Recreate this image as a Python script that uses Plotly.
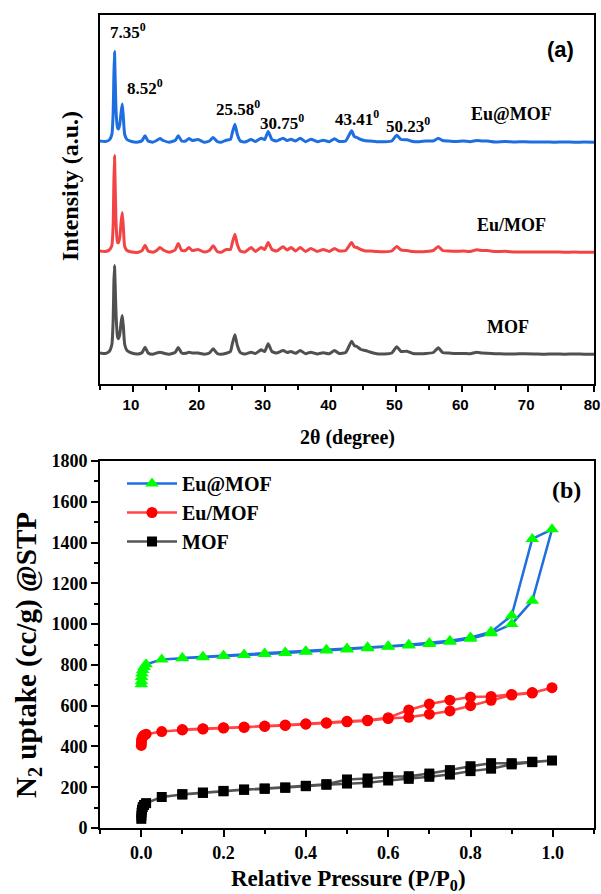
import plotly.graph_objects as go

# ---------------- (a) XRD data ----------------
two_theta = [5.0, 5.8, 6.4, 6.8, 7.0, 7.1, 7.2, 7.3, 7.45, 7.65, 7.8, 8.0, 8.2, 8.38, 8.55, 8.75,
             9.1, 9.8, 10.8, 11.4, 11.83, 12.3, 13.0, 13.6, 14.1, 14.6, 15.5, 16.4, 16.88, 17.4,
             18.0, 18.5, 19.0, 19.9, 20.8, 21.6, 22.18, 22.8, 23.4, 24.16, 24.8, 25.1, 25.48,
             25.85, 26.3, 27.0, 27.95, 28.6, 29.47, 30.0, 30.53, 31.1, 31.8, 32.8, 33.4, 34.0,
             34.7, 35.4, 36.2, 37.0, 38.0, 38.9, 39.8, 40.6, 41.3, 42.3, 43.2, 43.6, 44.0, 44.6,
             45.3, 46.0, 47.0, 48.2, 49.3, 50.05, 50.7, 51.6, 52.5, 53.5, 54.5, 55.6, 56.36, 57.0,
             58.0, 59.0, 60.2, 61.2, 62.2, 63.0, 63.8, 65.0, 66.5, 68.0, 69.5, 71.0, 72.5, 74.0,
             75.5, 77.0, 78.5, 80.0]

int_eu_at_mof = [1.5, 1.0, 2.5, 8, 30, 65, 91, 65, 30, 15, 13.5, 18, 30, 38.5, 25, 8,
                 3, 1, 0.5, 2, 6.7, 1.5, 0.3, 2, 4, 2, 0.3, 2, 6.7, 1.5,
                 1.5, 4, 2, 3, 0.3, 1.5, 5, 1, 0.3, 2.3, 3, 10, 18.3,
                 8, 1.5, 0.5, 3, 1, 4.3, 3, 11, 3, 1.5, 4.3, 2, 3.3,
                 1.5, 4.3, 0.8, 3.3, 0.8, 2.3, 0.8, 3.7, 1, 1.5, 11.7, 6, 5, 3,
                 1.7, 1.5, 0.8, 0.8, 1.5, 7.3, 3, 2.7, 1, 0.8, 1.5, 1.5, 4.3, 2,
                 1.5, 1, 1.5, 0.8, 2, 1.5, 1.5, 0.6, 1, 0.5, 0.8, 0.4, 0.6, 0.3,
                 0.5, 0.3, 0.4, 0.3]

int_eu_mof = [1.5, 1.0, 2.5, 7, 28, 68, 97, 68, 28, 10, 10, 15, 30, 40, 25, 6,
              2, 0.5, 0.3, 2, 7.3, 1.5, 0.3, 2, 5, 2.5, 0.3, 2.5, 9, 2,
              2, 5, 2, 3, 0.5, 2, 6.7, 1, 0.3, 3, 3, 10, 18.3,
              8, 1.5, 0.5, 5, 1, 5, 3, 10, 3, 1.5, 5.7, 2.5, 5,
              1.5, 5, 1, 4, 1, 3, 1, 4, 1.5, 2, 10, 5.5, 5, 3,
              1.5, 1.5, 1, 0.8, 1.5, 6, 2.5, 2, 1, 0.8, 1, 2, 6, 2,
              1.5, 1.2, 1.5, 1, 2.7, 2, 2, 1, 1.2, 0.5, 0.6, 0.5, 0.4, 0.5,
              0.3, 0.4, 0.3, 0.3]

int_mof = [1.5, 1.0, 3, 10, 35, 70, 89, 70, 38, 18, 15.7, 20, 32, 39, 28, 10,
           4, 1.5, 0.5, 2, 7.3, 1.5, 0.3, 1.5, 2.3, 1.5, 0.3, 2, 7, 1.5,
           1.2, 2.3, 1.5, 1.5, 0.3, 1.5, 5.7, 1, 0.3, 1.3, 3, 11, 19.7,
           9, 2, 0.5, 2.3, 1, 4.7, 3, 10.7, 3, 1.5, 4, 2, 3,
           1.2, 4, 0.8, 2.3, 0.6, 1.7, 0.8, 4, 1, 2, 13.3, 9, 8, 5,
           4, 2.5, 0.8, 0.6, 1.5, 7.7, 3, 3.3, 1, 0.8, 1, 2, 6.7, 2,
           1.5, 1, 1, 0.8, 2.3, 1.5, 1.2, 0.8, 0.6, 0.5, 0.8, 0.6, 0.3, 0.6,
           0.3, 0.5, 0.3, 0.3]

xrd_names = ["Eu@MOF", "Eu/MOF", "MOF"]
xrd_offsets = [241.5, 131.5, 29.5]
xrd_colors = ["#1E6EE0", "#F24444", "#505050"]

peak_labels = ["7.35", "8.52", "25.58", "30.75", "43.41", "50.23"]
peak_label_x = [9.3, 11.9, 26.0, 32.7, 43.95, 51.8]
peak_label_y = [353, 297, 276, 262, 266, 259]

# ---------------- (b) N2 isotherm data ----------------
p_ads_eu_at = [0.0003, 0.0006, 0.001, 0.002, 0.004, 0.007, 0.012, 0.05, 0.1, 0.15, 0.2, 0.25, 0.3, 0.35,
               0.4, 0.45, 0.5, 0.55, 0.6, 0.65, 0.7, 0.75, 0.8, 0.85, 0.9, 0.95, 0.998]
v_ads_eu_at = [705, 720, 740, 758, 775, 790, 803, 826, 832, 838, 843, 848, 853, 858,
               864, 870, 876, 882, 889, 895, 903, 913, 928, 955, 1000, 1114, 1465]
p_des_eu_at = [0.95, 0.9, 0.85, 0.8, 0.75, 0.7, 0.65, 0.6, 0.55, 0.5, 0.45, 0.4, 0.35, 0.3, 0.25, 0.2, 0.15, 0.1]
v_des_eu_at = [1418, 1042, 962, 934, 918, 907, 899, 892, 886, 880, 874, 867, 861, 856, 850, 845, 840, 834]

p_ads_eu = [0.0003, 0.0006, 0.001, 0.002, 0.004, 0.007, 0.012, 0.05, 0.1, 0.15, 0.2, 0.25, 0.3, 0.35,
            0.4, 0.45, 0.5, 0.55, 0.6, 0.65, 0.7, 0.75, 0.8, 0.85, 0.9, 0.95, 0.998]
v_ads_eu = [405, 418, 430, 440, 448, 455, 460, 473, 481, 485, 490, 493, 498, 503,
            509, 514, 521, 526, 537, 543, 558, 574, 600, 626, 652, 662, 688]
p_des_eu = [0.95, 0.9, 0.85, 0.8, 0.75, 0.7, 0.65, 0.6, 0.55, 0.5, 0.45, 0.4, 0.35, 0.3, 0.25, 0.2, 0.15, 0.1]
v_des_eu = [664, 655, 645, 642, 627, 608, 579, 541, 529, 523, 516, 511, 505, 500, 495, 492, 487, 483]

p_ads_mof = [0.0003, 0.0006, 0.001, 0.002, 0.004, 0.007, 0.012, 0.05, 0.1, 0.15, 0.2, 0.25, 0.3, 0.35,
             0.4, 0.45, 0.5, 0.55, 0.6, 0.65, 0.7, 0.75, 0.8, 0.85, 0.9, 0.95, 0.998]
v_ads_mof = [45, 60, 75, 90, 103, 113, 122, 152, 164, 172, 180, 187, 192, 197,
             205, 212, 218, 222, 233, 241, 251, 262, 279, 291, 312, 323, 331]
p_des_mof = [0.95, 0.9, 0.85, 0.8, 0.75, 0.7, 0.65, 0.6, 0.55, 0.5, 0.45, 0.4, 0.35, 0.3, 0.25, 0.2, 0.15, 0.1]
v_des_mof = [325, 318, 318, 303, 284, 267, 254, 251, 243, 238, 215, 207, 199, 194, 189, 182, 174, 166]

iso_names = ["Eu@MOF", "Eu/MOF", "MOF"]
iso_line_colors = ["#1F6FDE", "#FF4545", "#555555"]
iso_marker_colors = ["#00FF00", "#FF0000", "#000000"]
iso_symbols = ["triangle-up", "circle", "square"]
iso_sizes = [12, 11, 10]

# ---------------- figure ----------------
W, H = 601, 894
SERIF = "Liberation Serif"
fig = go.Figure()

xrd_sets = [int_eu_at_mof, int_eu_mof, int_mof]
for name, vals, off, col in zip(xrd_names, xrd_sets, xrd_offsets, xrd_colors):
    fig.add_trace(go.Scatter(
        x=two_theta, y=[v + off for v in vals], mode="lines", name=name,
        line=dict(color=col, width=3, shape="spline", smoothing=0.5),
        xaxis="x", yaxis="y", showlegend=False, hoverinfo="skip"))

iso_sets = [(p_ads_eu_at, v_ads_eu_at, p_des_eu_at, v_des_eu_at),
            (p_ads_eu, v_ads_eu, p_des_eu, v_des_eu),
            (p_ads_mof, v_ads_mof, p_des_mof, v_des_mof)]
for name, (pa, va, pd, vd), lc, mc, sym, sz in zip(iso_names, iso_sets, iso_line_colors,
                                                 iso_marker_colors, iso_symbols, iso_sizes):
    fig.add_trace(go.Scatter(
        x=pa + pd, y=va + vd, mode="lines+markers", name=name,
        line=dict(color=lc, width=2.5),
        marker=dict(symbol=sym, size=sz, color=mc, line=dict(width=0)),
        xaxis="x2", yaxis="y2"))

def px_x(p):
    return p / W

def px_y(p):
    return 1 - p / H

axis_common = dict(showline=True, linecolor="black", linewidth=2, mirror=True,
                   showgrid=False, zeroline=False, ticks="outside", tickcolor="black",
                   tickwidth=2, automargin=False, ticklabeloverflow="allow")

fig.update_layout(
    width=W, height=H, margin=dict(l=0, r=0, t=0, b=0),
    paper_bgcolor="white", plot_bgcolor="white",
    xaxis=dict(domain=[px_x(100), px_x(594)], range=[5, 80], dtick=10, tick0=0, ticklen=6,
               tickfont=dict(family="Liberation Sans Narrow, Liberation Sans, Arial", size=15,
                             color="black", weight="bold"),
               ticklabelshift=-2,
               minor=dict(dtick=5, tick0=0, ticks="outside", ticklen=4, tickwidth=2, tickcolor="black"),
               anchor="y", **axis_common),
    yaxis=dict(domain=[px_y(384), px_y(15)], range=[0, 369], showticklabels=False,
               anchor="x", **{**axis_common, "ticks": ""}),
    xaxis2=dict(domain=[px_x(100), px_x(594)], range=[-0.1, 1.1], dtick=0.2, tick0=0, ticklen=7,
                tickformat=".1f",
                tickfont=dict(family=SERIF, size=18, color="black", weight="bold"),
                minor=dict(dtick=0.1, tick0=0, ticks="outside", ticklen=4, tickwidth=2, tickcolor="black"),
                anchor="y2", **axis_common),
    yaxis2=dict(domain=[px_y(828), px_y(461)], range=[0, 1800], dtick=200, tick0=0, ticklen=7,
                tickfont=dict(family=SERIF, size=18, color="black", weight="bold"),
                minor=dict(dtick=100, tick0=0, ticks="outside", ticklen=4, tickwidth=2, tickcolor="black"),
                anchor="x2", **axis_common),
    legend=dict(x=px_x(122), y=px_y(464), xanchor="left", yanchor="top",
                bgcolor="rgba(0,0,0,0)", itemwidth=50, tracegroupgap=0,
                font=dict(family=SERIF, size=20, color="black", weight="bold")),
    showlegend=True,
)

def A(x, y, text, size, family=SERIF, xref="paper", yref="paper", angle=0):
    return dict(x=x, y=y, xref=xref, yref=yref, text=text, showarrow=False,
                xanchor="center", yanchor="middle", textangle=angle,
                font=dict(family=family, size=size, color="black", weight="bold"))

ann = []
for lab, lx, ly in zip(peak_labels, peak_label_x, peak_label_y):
    ann.append(A(lx, ly, lab + "<sup>0</sup>", 17, xref="x", yref="y"))
for name, lx, ly in zip(xrd_names, [67.4, 67.4, 66.9], [270, 159, 57]):
    ann.append(A(lx, ly, name, 18, xref="x", yref="y"))
ann.append(A(px_x(560), px_y(50), "(a)", 22, family="Liberation Sans, Arial"))
ann.append(A(px_x(566), px_y(490), "(b)", 24))
ann.append(A(px_x(347), px_y(437), "2θ (degree)", 20))
ann.append(A(px_x(70), px_y(186), "Intensity (a.u.)", 24, angle=-90))
ann.append(A(px_x(348), px_y(880), "Relative Pressure (P/P<sub>0</sub>)", 23))
ann.append(A(px_x(28), px_y(655), "N<sub>2</sub> uptake (cc/g) @STP", 29, angle=-90))
fig.update_layout(annotations=ann)

fig.write_html("out.html", config={"displayModeBar": False},
               post_script="document.body.style.margin='0';")
